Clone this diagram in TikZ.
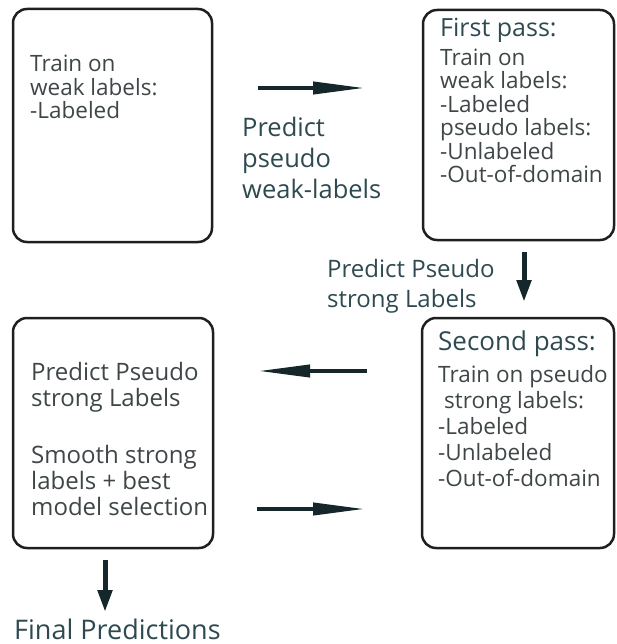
\documentclass[tikz,border=0pt]{standalone}
\usepackage{fontspec}
\setmainfont{Open Sans}
\usetikzlibrary{positioning, arrows.meta}

\definecolor{boxtext}{HTML}{3F4647}
\definecolor{steptext}{HTML}{2E4A50}
\definecolor{arrowcol}{HTML}{15272B}

\begin{document}
\begin{tikzpicture}[
    x=1pt, y=-1pt,          % 1 unit = 1 px of the 616x644 layout, y downwards
    box/.style={draw=black!88, line width=2.5pt, rounded corners=14pt, inner sep=0pt},
    % multi-line texts: base west sits on the baseline of the LAST line
    boxtxt/.style={anchor=base west, align=left, inner sep=0pt, text=boxtext,
                   font=\fontsize{22.5}{23.4}\selectfont},
    headtxt/.style={anchor=base west, inner sep=0pt, text=steptext},
    lbltxt/.style={anchor=base west, align=left, inner sep=0pt, text=steptext},
    hflow/.style={arrowcol, line width=4pt, -{Triangle[length=52pt, width=12pt]}},
    vflow/.style={arrowcol, line width=5pt, -{Triangle[length=22pt, width=14pt]}}
]
    \useasboundingbox (0,0) rectangle (616,644);

    % --- boxes ---
    \node [box, minimum width=199pt, minimum height=233pt] (weak)   at (112.5,125.5) {};
    \node [box, minimum width=191pt, minimum height=230pt] (first)  at (518.5,125)   {};
    \node [box, minimum width=200pt, minimum height=230pt] (select) at (113,433)     {};
    \node [box, minimum width=192pt, minimum height=230pt] (second) at (518,433)     {};

    % --- box texts ---
    \node [boxtxt] (weakt) at (30,118.8) {Train on\\weak labels:\\-Labeled};

    \node [headtxt, font=\fontsize{25}{27}\selectfont] (firsth) at (440,37) {First pass:};
    \node [boxtxt] (firstt) at (440,182.5)
        {Train on\\weak labels:\\-Labeled\\pseudo labels:\\-Unlabeled\\-Out-of-domain};

    \node [headtxt, font=\fontsize{26}{28}\selectfont] (secondh) at (438,350) {Second pass:};
    \node [boxtxt, font=\fontsize{22.5}{26}\selectfont] (secondt) at (438,486)
        {Train on pseudo\\\hspace*{6pt}strong labels:\\-Labeled\\-Unlabeled\\-Out-of-domain};

    \node [boxtxt, font=\fontsize{24}{26}\selectfont] (selectt) at (31,406)
        {Predict Pseudo\\strong Labels};
    \node [boxtxt, font=\fontsize{24}{26}\selectfont] (selectu) at (31,515)
        {Smooth strong\\labels + best\\model selection};

    % --- labels between the boxes ---
    \node [lbltxt, font=\fontsize{25.5}{31}\selectfont] (pweak) at (242,199)
        {Predict\\pseudo\\weak-labels};
    \node [lbltxt, font=\fontsize{24}{30}\selectfont] (pstrong) at (327,307)
        {Predict Pseudo\\strong Labels};
    \node [lbltxt, font=\fontsize{27}{30}\selectfont] (final) at (14,639) {Final Predictions};

    % --- arrows ---
    \coordinate (a1s) at (258,88);   \coordinate (a1e) at (365,88);
    \coordinate (a2s) at (524,252);  \coordinate (a2e) at (524,302);
    \coordinate (a3s) at (367,371);  \coordinate (a3e) at (258,371);
    \coordinate (a4s) at (257,509);  \coordinate (a4e) at (365,509);
    \coordinate (a5s) at (105,560);  \coordinate (a5e) at (105,612);

    \draw [hflow] (a1s) -- (a1e);
    \draw [vflow] (a2s) -- (a2e);
    \draw [hflow] (a3s) -- (a3e);
    \draw [hflow] (a4s) -- (a4e);
    \draw [vflow] (a5s) -- (a5e);

\end{tikzpicture}
\end{document}
